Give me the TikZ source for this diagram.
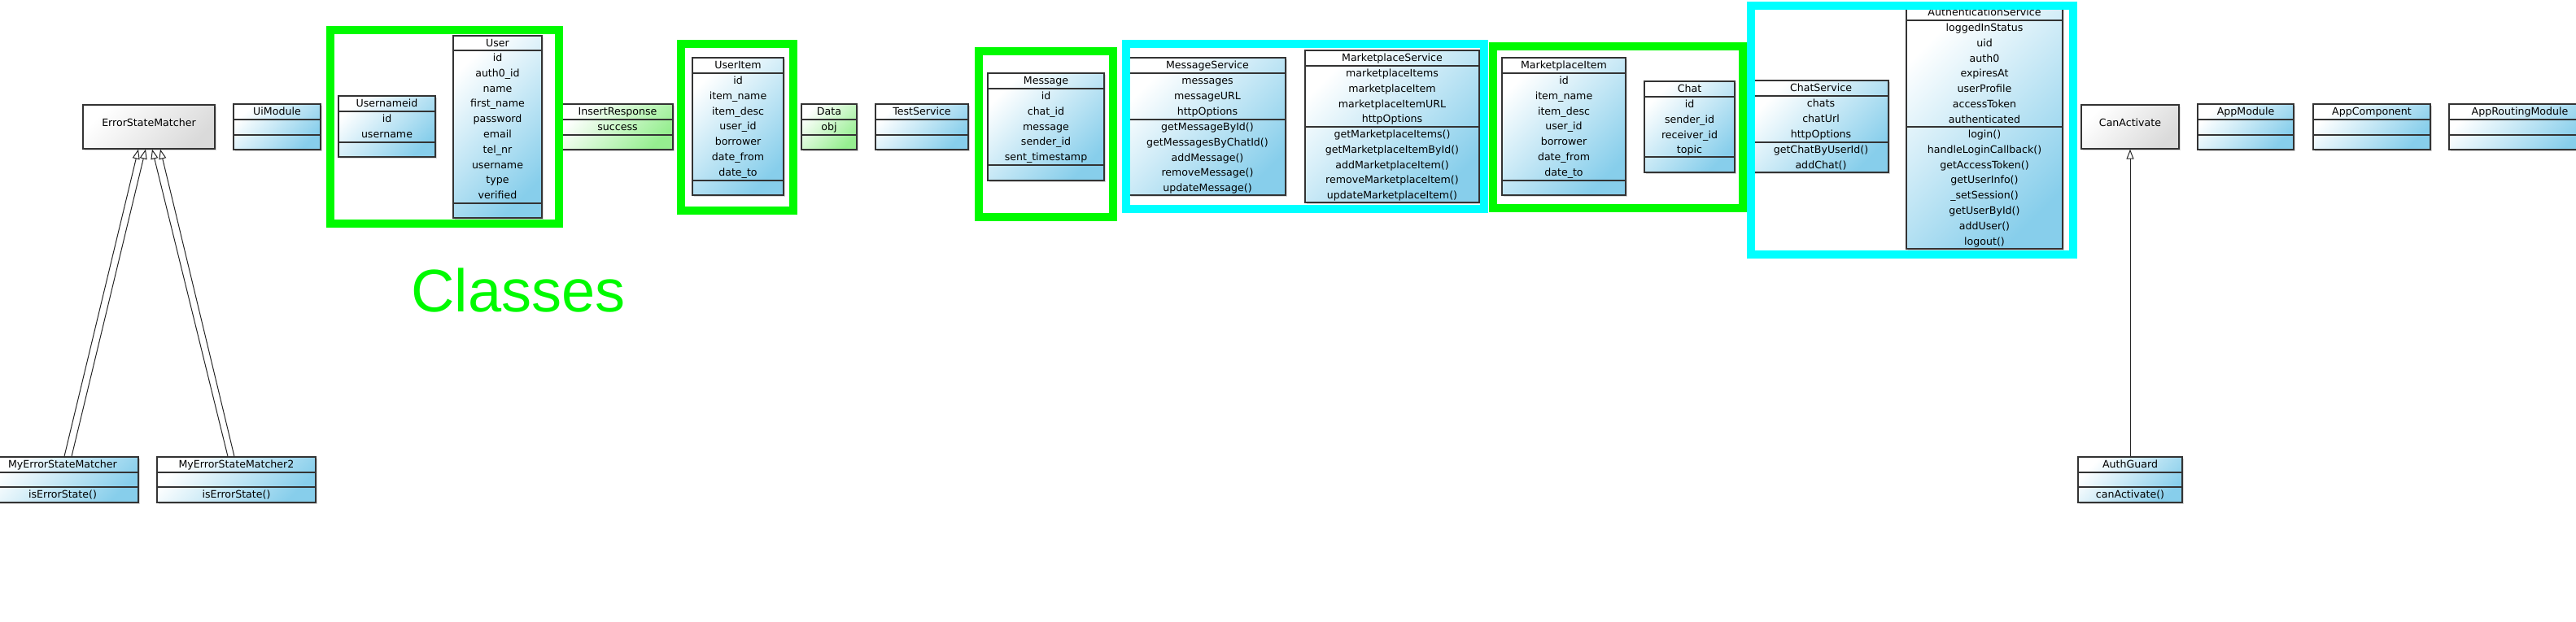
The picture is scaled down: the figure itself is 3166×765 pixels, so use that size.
\documentclass[tikz,border=0pt]{standalone}
\usepackage{fontspec}
\setmainfont{DejaVu Sans}
\newfontfamily\bigfont{Liberation Sans}
\usetikzlibrary{arrows.meta,fit,shadows}
\definecolor{umlblue}{RGB}{135,206,235}
\definecolor{umlgreen}{RGB}{150,238,144}
\definecolor{umlgray}{RGB}{218,218,218}
\definecolor{framegreen}{RGB}{0,250,0}
\definecolor{framecyan}{RGB}{0,255,255}

\begin{document}
\begin{tikzpicture}[x=0.5pt,y=-0.5pt,
    box/.style={inner sep=0pt, draw=black!80, line width=0.6pt,
      font=\fontsize{6.3}{9.4}\selectfont,
      drop shadow={shadow xshift=1.2pt, shadow yshift=-1.2pt, fill=black, opacity=0.15}},
    bluebox/.style={box, top color=white, bottom color=umlblue, shading angle=45},
    greenbox/.style={box, top color=white, bottom color=umlgreen, shading angle=45},
    graybox/.style={box, top color=white, bottom color=umlgray, shading angle=45},
    sep/.style={draw=black!80, line width=0.6pt},
    rows/.style={anchor=north, inner sep=0pt, align=center,
      font=\fontsize{6.3}{9.4}\selectfont},
    frame/.style={line width=5pt},
    inherit/.style={-{Triangle[open, length=6pt, width=4.5pt]}, line width=0.5pt, draw=black!85}]
  \useasboundingbox (0,0) rectangle (3166,765);

  % ErrorStateMatcher and UiModule
  \node[graybox, fit={(102,129) (264,183)}] (esm) {ErrorStateMatcher};
  \node[bluebox, fit={(287,128) (394,184)}] (uimodule) {};
  \draw[sep] (287,147) -- (394,147) (287,166) -- (394,166);
  \node[rows] at (340.5,128) {\strut UiModule};

  % Usernameid
  \node[bluebox, fit={(416,118) (535,193)}] (usernameid) {};
  \draw[sep] (416,137) -- (535,137) (416,175) -- (535,175);
  \node[rows] at (475.5,118) {\strut Usernameid};
  \node[rows] at (475.5,137) {\strut id\\username};

  % User
  \node[bluebox, fit={(557,44) (666,268)}] (user) {};
  \draw[sep] (557,62) -- (666,62) (557,250) -- (666,250);
  \node[rows] at (611.5,44) {\strut User};
  \node[rows] at (611.5,62) {\strut id\\auth0\_id\\name\\first\_name\\password\\email\\tel\_nr\\username\\type\\verified};

  % InsertResponse
  \node[greenbox, fit={(690,128) (827,184)}] (insertresponse) {};
  \draw[sep] (690,147) -- (827,147) (690,166) -- (827,166);
  \node[rows] at (759,128) {\strut InsertResponse};
  \node[rows] at (759,147) {\strut success};

  % UserItem
  \node[bluebox, fit={(851,71) (963,240)}] (useritem) {};
  \draw[sep] (851,90) -- (963,90) (851,222) -- (963,222);
  \node[rows] at (907,71) {\strut UserItem};
  \node[rows] at (907,90) {\strut id\\item\_name\\item\_desc\\user\_id\\borrower\\date\_from\\date\_to};

  % Data and TestService
  \node[greenbox, fit={(985,128) (1053,184)}] (data) {};
  \draw[sep] (985,147) -- (1053,147) (985,166) -- (1053,166);
  \node[rows] at (1019,128) {\strut Data};
  \node[rows] at (1019,147) {\strut obj};
  \node[bluebox, fit={(1076,128) (1190,184)}] (testservice) {};
  \draw[sep] (1076,147) -- (1190,147) (1076,166) -- (1190,166);
  \node[rows] at (1133,128) {\strut TestService};

  % Message
  \node[bluebox, fit={(1214,90) (1357,222)}] (message) {};
  \draw[sep] (1214,109) -- (1357,109) (1214,203) -- (1357,203);
  \node[rows] at (1285.5,90) {\strut Message};
  \node[rows] at (1285.5,109) {\strut id\\chat\_id\\message\\sender\_id\\sent\_timestamp};

  % MessageService
  \node[bluebox, fit={(1388,71) (1580,240)}] (messageservice) {};
  \draw[sep] (1388,90) -- (1580,90) (1388,147) -- (1580,147);
  \node[rows] at (1484,71) {\strut MessageService};
  \node[rows] at (1484,90) {\strut messages\\messageURL\\httpOptions};
  \node[rows] at (1484,147) {\strut getMessageById()\\getMessagesByChatId()\\addMessage()\\removeMessage()\\updateMessage()};

  % MarketplaceService
  \node[bluebox, fit={(1604,62) (1818,249)}] (marketplaceservice) {};
  \draw[sep] (1604,81) -- (1818,81) (1604,156) -- (1818,156);
  \node[rows] at (1711,62) {\strut MarketplaceService};
  \node[rows] at (1711,81) {\strut marketplaceItems\\marketplaceItem\\marketplaceItemURL\\httpOptions};
  \node[rows] at (1711,156) {\strut getMarketplaceItems()\\getMarketplaceItemById()\\addMarketplaceItem()\\removeMarketplaceItem()\\updateMarketplaceItem()};

  % MarketplaceItem and Chat
  \node[bluebox, fit={(1846,71) (1998,240)}] (marketplaceitem) {};
  \draw[sep] (1846,90) -- (1998,90) (1846,222) -- (1998,222);
  \node[rows] at (1922,71) {\strut MarketplaceItem};
  \node[rows] at (1922,90) {\strut id\\item\_name\\item\_desc\\user\_id\\borrower\\date\_from\\date\_to};
  \node[bluebox, fit={(2021,100) (2132,212)}] (chat) {};
  \draw[sep] (2021,119) -- (2132,119) (2021,193) -- (2132,193);
  \node[rows] at (2076.5,100) {\strut Chat};
  \node[rows] at (2076.5,119) {\strut id\\sender\_id\\receiver\_id\\topic};

  % ChatService
  \node[bluebox, fit={(2155,99) (2321,212)}] (chatservice) {};
  \draw[sep] (2155,118) -- (2321,118) (2155,175) -- (2321,175);
  \node[rows] at (2238,99) {\strut ChatService};
  \node[rows] at (2238,118) {\strut chats\\chatUrl\\httpOptions};
  \node[rows] at (2238,175) {\strut getChatByUserId()\\addChat()};

  % AuthenticationService
  \node[bluebox, fit={(2343,6) (2535,306)}] (authservice) {};
  \draw[sep] (2343,25) -- (2535,25) (2343,156) -- (2535,156);
  \node[rows] at (2439,6) {\strut AuthenticationService};
  \node[rows] at (2439,25) {\strut loggedInStatus\\uid\\auth0\\expiresAt\\userProfile\\accessToken\\authenticated};
  \node[rows] at (2439,156) {\strut login()\\handleLoginCallback()\\getAccessToken()\\getUserInfo()\\\_setSession()\\getUserById()\\addUser()\\logout()};

  % CanActivate and the app modules
  \node[graybox, fit={(2558,129) (2678,183)}] (canactivate) {CanActivate};
  \node[bluebox, fit={(2701,128) (2819,184)}] (appmodule) {};
  \draw[sep] (2701,147) -- (2819,147) (2701,166) -- (2819,166);
  \node[rows] at (2760,128) {\strut AppModule};
  \node[bluebox, fit={(2843,128) (2987,184)}] (appcomponent) {};
  \draw[sep] (2843,147) -- (2987,147) (2843,166) -- (2987,166);
  \node[rows] at (2915,128) {\strut AppComponent};
  \node[bluebox, fit={(3010,128) (3184,184)}] (approuting) {};
  \draw[sep] (3010,147) -- (3184,147) (3010,166) -- (3184,166);
  \node[rows] at (3097,128) {\strut AppRoutingModule};

  % Matchers and guard
  \node[bluebox, fit={(-16,562) (170,618)}] (myesm) {};
  \draw[sep] (-16,581) -- (170,581) (-16,599) -- (170,599);
  \node[rows] at (77,562) {\strut MyErrorStateMatcher};
  \node[rows] at (77,599) {\strut isErrorState()};
  \node[bluebox, fit={(193,562) (388,618)}] (myesmtwo) {};
  \draw[sep] (193,581) -- (388,581) (193,599) -- (388,599);
  \node[rows] at (290.5,562) {\strut MyErrorStateMatcher2};
  \node[rows] at (290.5,599) {\strut isErrorState()};
  \node[bluebox, fit={(2554,562) (2682,618)}] (authguard) {};
  \draw[sep] (2554,581) -- (2682,581) (2554,599) -- (2682,599);
  \node[rows] at (2618,562) {\strut AuthGuard};
  \node[rows] at (2618,599) {\strut canActivate()};

  % Inheritance
  \draw[inherit] ([xshift=1pt]myesm.north) -- ([xshift=-6.5pt]esm.south);
  \draw[inherit] ([xshift=5.5pt]myesm.north) -- ([xshift=-2pt]esm.south);
  \draw[inherit] ([xshift=-5.25pt]myesmtwo.north) -- ([xshift=2pt]esm.south);
  \draw[inherit] ([xshift=-1.25pt]myesmtwo.north) -- ([xshift=7pt]esm.south);
  \draw[inherit] (authguard) -- (canactivate);

  % Frames
  \draw[frame, framegreen] (406,37) rectangle (687,275);
  \draw[frame, framegreen] (836.5,54) rectangle (975,258.5);
  \draw[frame, framegreen] (1202.5,63) rectangle (1367.5,267);
  \draw[frame, framegreen] (1834.5,57) rectangle (2141.5,256);
  \draw[frame, framecyan] (1383.5,54) rectangle (1823.5,256.5);
  \draw[frame, framecyan] (2152,7) rectangle (2548,312.5);
  \node[font=\bigfont\fontsize{37}{44}\selectfont, text=framegreen, anchor=base] (classes) at (637,383) {Classes};
\end{tikzpicture}
\end{document}
